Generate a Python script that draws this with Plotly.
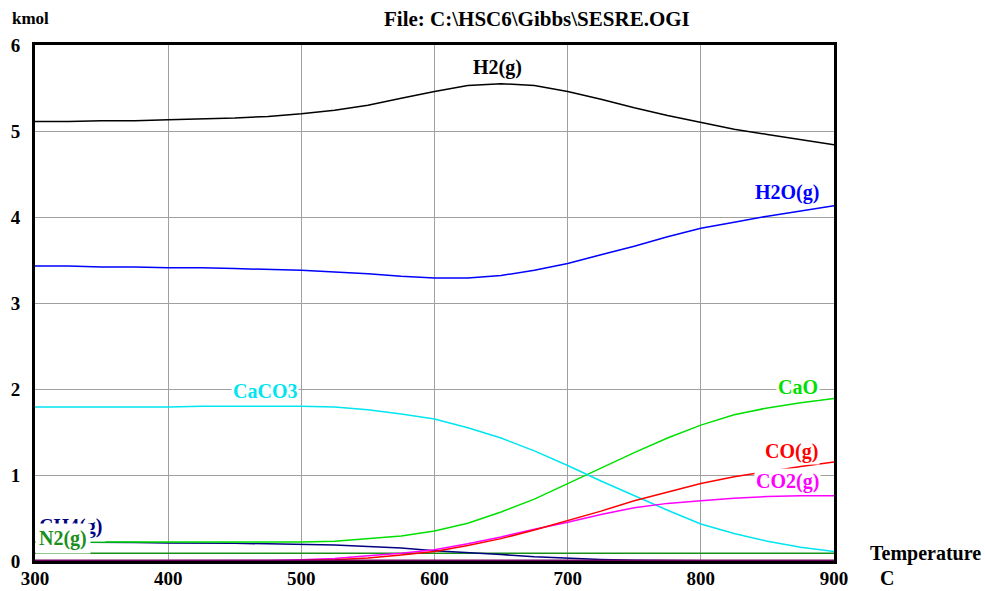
import plotly.graph_objects as go

temps = [300, 325, 350, 375, 400, 425, 450, 475, 500, 525, 550, 575, 600,
         625, 650, 675, 700, 725, 750, 775, 800, 825, 850, 875, 900]

h2 = [5.11, 5.11, 5.12, 5.12, 5.13, 5.14, 5.15, 5.17, 5.20, 5.24, 5.30, 5.38, 5.46,
      5.53, 5.55, 5.53, 5.46, 5.37, 5.27, 5.18, 5.10, 5.02, 4.96, 4.90, 4.84]
h2o = [3.43, 3.43, 3.42, 3.42, 3.41, 3.41, 3.40, 3.39, 3.38, 3.36, 3.34, 3.31, 3.29,
       3.29, 3.32, 3.38, 3.46, 3.56, 3.66, 3.77, 3.87, 3.94, 4.01, 4.07, 4.13]
caco3 = [1.79, 1.79, 1.79, 1.79, 1.79, 1.80, 1.80, 1.80, 1.80, 1.79, 1.76, 1.71, 1.65,
         1.55, 1.43, 1.28, 1.11, 0.93, 0.76, 0.59, 0.43, 0.32, 0.23, 0.16, 0.11]
cao = [0.22, 0.22, 0.22, 0.22, 0.22, 0.22, 0.22, 0.22, 0.22, 0.23, 0.26, 0.29, 0.35,
       0.44, 0.57, 0.72, 0.90, 1.08, 1.26, 1.43, 1.58, 1.70, 1.78, 1.84, 1.89]
co = [0.0, 0.0, 0.0, 0.0, 0.0, 0.0, 0.0, 0.0, 0.005, 0.015, 0.035, 0.07, 0.11,
      0.18, 0.26, 0.36, 0.47, 0.58, 0.70, 0.80, 0.90, 0.98, 1.04, 1.10, 1.15]
co2 = [0.0, 0.0, 0.0, 0.0, 0.0, 0.0, 0.0, 0.005, 0.015, 0.03, 0.06, 0.09, 0.13,
       0.20, 0.28, 0.37, 0.45, 0.54, 0.62, 0.67, 0.70, 0.73, 0.75, 0.76, 0.76]
ch4 = [0.22, 0.22, 0.22, 0.215, 0.21, 0.21, 0.205, 0.20, 0.195, 0.185, 0.17, 0.15, 0.12,
       0.10, 0.075, 0.05, 0.03, 0.018, 0.01, 0.005, 0.002, 0.0, 0.0, 0.0, 0.0]
n2 = [0.09] * len(temps)
other = [0.0] * len(temps)

series = [
    ("N2(g)", n2, "#1a8f1a"),
    ("CH4(g)", ch4, "#000080"),
    ("CaO", cao, "#00e000"),
    ("CaCO3", caco3, "#00e5f0"),
    ("CO2(g)", co2, "#ff00ff"),
    ("CO(g)", co, "#ff0000"),
    ("H2O(g)", h2o, "#0000ff"),
    ("H2(g)", h2, "#000000"),
    ("other", other, "#70005a"),
]

fig = go.Figure()
for name, vals, col in series:
    fig.add_trace(go.Scatter(x=temps, y=vals, mode="lines", name=name,
                             line=dict(color=col, width=1.5 if name != "other" else 3),
                             cliponaxis=False, showlegend=False))

FONT = "Liberation Serif"
labels = [
    ("H2(g)", 647, 5.74, "#000000", 1),
    ("H2O(g)", 864.7, 4.28, "#0000ff", 1),
    ("CaCO3", 472.7, 1.98, "#00e5f0", 1),
    ("CaO", 873, 2.02, "#00e000", 1),
    ("CO(g)", 868, 1.27, "#ff0000", 1),
    ("CO2(g)", 865, 0.93, "#ff00ff", 1),
    ("CH4(g)", 327, 0.40, "#000080", 3),
    ("N2(g)", 321, 0.265, "#1a8f1a", 3),
]
for txt, lx, ly, col, pad in labels:
    fig.add_annotation(x=lx, y=ly, xref="x", yref="y", text=txt, showarrow=False,
                       xanchor="center", yanchor="middle", bgcolor="white",
                       borderpad=pad,
                       font=dict(family=FONT, size=20, color=col, weight="bold"))

fig.add_annotation(x=1.114, y=0.0155, xref="paper", yref="paper", text="Temperature",
                   showarrow=False, xanchor="center", yanchor="middle",
                   font=dict(family=FONT, size=20, color="black", weight="bold"))
fig.add_annotation(x=1.066, y=-0.033, xref="paper", yref="paper", text="C",
                   showarrow=False, xanchor="center", yanchor="middle",
                   font=dict(family=FONT, size=20, color="black", weight="bold"))
fig.add_annotation(x=-0.006, y=1.052, xref="paper", yref="paper", text="kmol",
                   showarrow=False, xanchor="center", yanchor="middle",
                   font=dict(family=FONT, size=17, color="black", weight="bold"))
fig.add_annotation(x=0.628, y=1.05, xref="paper", yref="paper",
                   text="File: C:\\HSC6\\Gibbs\\SESRE.OGI",
                   showarrow=False, xanchor="center", yanchor="middle",
                   font=dict(family=FONT, size=21, color="black", weight="bold"))

fig.update_layout(
    width=985, height=591,
    margin=dict(l=35, r=151, t=45, b=30, autoexpand=False),
    paper_bgcolor="white", plot_bgcolor="white",
    font=dict(family=FONT, color="black"),
)
fig.update_xaxes(range=[300, 900], tickvals=[300, 400, 500, 600, 700, 800, 900],
                 showgrid=True, gridcolor="#a0a0a0", gridwidth=1,
                 showline=True, linecolor="black", linewidth=3, mirror=True,
                 ticks="", zeroline=False, layer="below traces", automargin=False,
                 ticklabelstandoff=-2,
                 tickfont=dict(family=FONT, size=19, weight="bold"))
fig.update_yaxes(range=[0, 6], tickvals=[0, 1, 2, 3, 4, 5, 6],
                 showgrid=True, gridcolor="#a0a0a0", gridwidth=1,
                 showline=True, linecolor="black", linewidth=3, mirror=True,
                 ticks="", zeroline=False, layer="below traces", automargin=False,
                 ticklabelstandoff=8,
                 tickfont=dict(family=FONT, size=19, weight="bold"))

fig.write_html("out.html")
